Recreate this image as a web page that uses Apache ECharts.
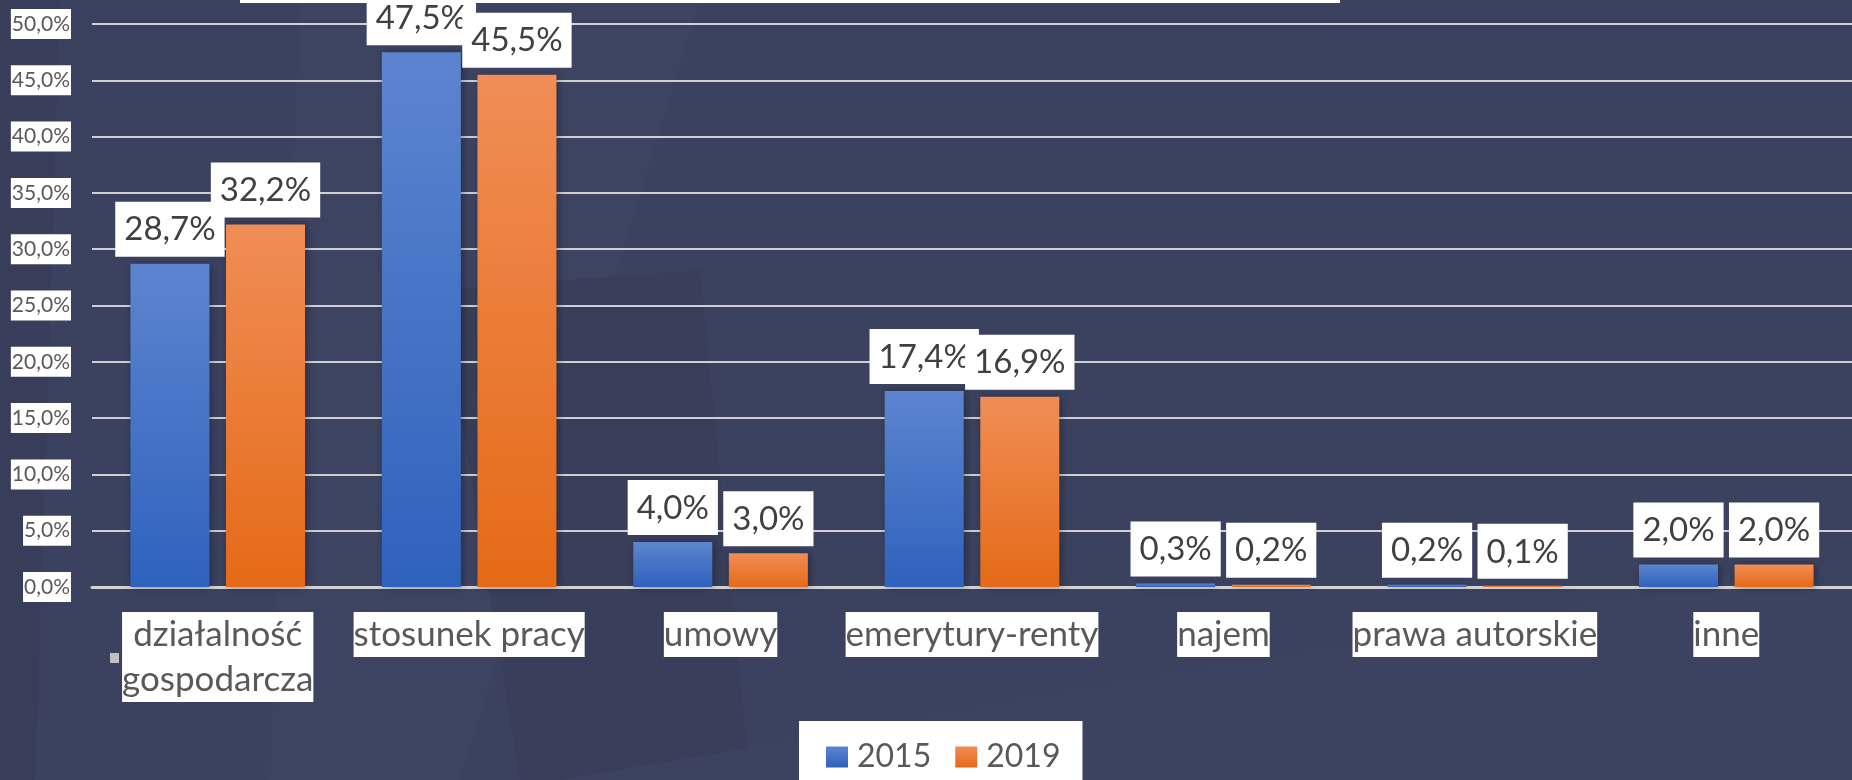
<!DOCTYPE html>
<html>
<head>
<meta charset="utf-8">
<script src="https://cdn.jsdelivr.net/npm/echarts@6/dist/echarts.min.js"></script>
<style>
  html, body { margin: 0; padding: 0; background: #3b4260; }
  #chart { width: 1852px; height: 780px; }
</style>
</head>
<body>
<div id="chart"></div>
<script>
const categories = ['działalność\ngospodarcza', 'stosunek pracy', 'umowy', 'emerytury-renty', 'najem', 'prawa autorskie', 'inne']
const values2015 = [28.7, 47.5, 4.0, 17.4, 0.3, 0.2, 2.0]
const values2019 = [32.2, 45.5, 3.0, 16.9, 0.2, 0.1, 2.0]
const seriesNames = ['2015', '2019']

const FONT = 'Lato'
const pct = v => v.toFixed(1).replace('.', ',') + '%'

const blue = new echarts.graphic.LinearGradient(0, 0, 0, 1, [
  { offset: 0, color: '#5d84cf' },
  { offset: 1, color: '#2f62bd' }
])
const orange = new echarts.graphic.LinearGradient(0, 0, 0, 1, [
  { offset: 0, color: '#f08d56' },
  { offset: 1, color: '#e56a17' }
])

const chart = echarts.init(document.getElementById('chart'))

function barSeries(name, data, color) {
  return {
    name: name,
    type: 'bar',
    data: data,
    barWidth: 79,
    barGap: '21%',
    itemStyle: {
      color: color,
      shadowColor: 'rgba(0,0,0,0.35)',
      shadowBlur: 8,
      shadowOffsetX: 2,
      shadowOffsetY: 0
    },
    label: {
      show: true,
      position: 'top',
      distance: 7,
      formatter: p => pct(p.value),
      fontFamily: FONT,
      fontSize: 33,
      color: '#404040',
      backgroundColor: '#ffffff',
      padding: [7, 9, 6, 9],
      lineHeight: 42
    }
  }
}

chart.setOption({
  backgroundColor: '#3b4260',
  animation: false,
  graphic: [
    // subtle background shapes
    { type: 'polygon', silent: true, z: -10, shape: { points: [[0, 0], [60, 0], [35, 780], [0, 780]] }, style: { fill: '#383e59' } },
    { type: 'polygon', silent: true, z: -10, shape: { points: [[300, 0], [700, 0], [460, 780], [270, 780]] }, style: { fill: '#3d4462' } },
    { type: 'polygon', silent: true, z: -10, shape: { points: [[440, 290], [700, 270], [750, 780], [520, 780]] }, style: { fill: '#393f5a' } },
    { type: 'polygon', silent: true, z: -10, shape: { points: [[560, 780], [1852, 560], [1852, 780]] }, style: { fill: '#3c4361' } },
    { type: 'rect', silent: true, shape: { x: 240, y: 0, width: 1100, height: 3 }, style: { fill: '#ffffff' } },
    { type: 'rect', silent: true, shape: { x: 110, y: 653, width: 9, height: 10 }, style: { fill: '#bfbfbf' } }
  ],
  grid: {
    left: 92,
    right: 0,
    top: 24,
    bottom: 193
  },
  legend: {
    data: seriesNames,
    left: 799,
    top: 721,
    backgroundColor: '#ffffff',
    padding: [20, 22, 22, 27],
    itemWidth: 22,
    itemHeight: 21,
    itemGap: 24,
    icon: 'rect',
    textStyle: {
      fontFamily: FONT,
      fontSize: 32,
      color: '#595959',
      padding: [0, 0, 0, 4]
    }
  },
  xAxis: {
    type: 'category',
    data: categories,
    axisTick: { show: false },
    axisLine: { lineStyle: { color: '#d4d4d4', width: 3 } },
    axisLabel: {
      interval: 0,
      margin: 25,
      fontFamily: FONT,
      fontSize: 35,
      lineHeight: 45,
      color: '#595959',
      backgroundColor: '#ffffff'
    }
  },
  yAxis: {
    type: 'value',
    min: 0,
    max: 50,
    interval: 5,
    axisLine: { show: false },
    axisTick: { show: false },
    splitLine: { lineStyle: { color: '#d0d0d0', width: 2 } },
    axisLabel: {
      margin: 21,
      formatter: v => pct(v),
      fontFamily: FONT,
      fontSize: 21,
      lineHeight: 24,
      color: '#595959',
      backgroundColor: '#ffffff',
      padding: [3, 1, 3, 1]
    }
  },
  series: [
    barSeries(seriesNames[0], values2015, blue),
    barSeries(seriesNames[1], values2019, orange)
  ]
})
</script>
</body>
</html>
